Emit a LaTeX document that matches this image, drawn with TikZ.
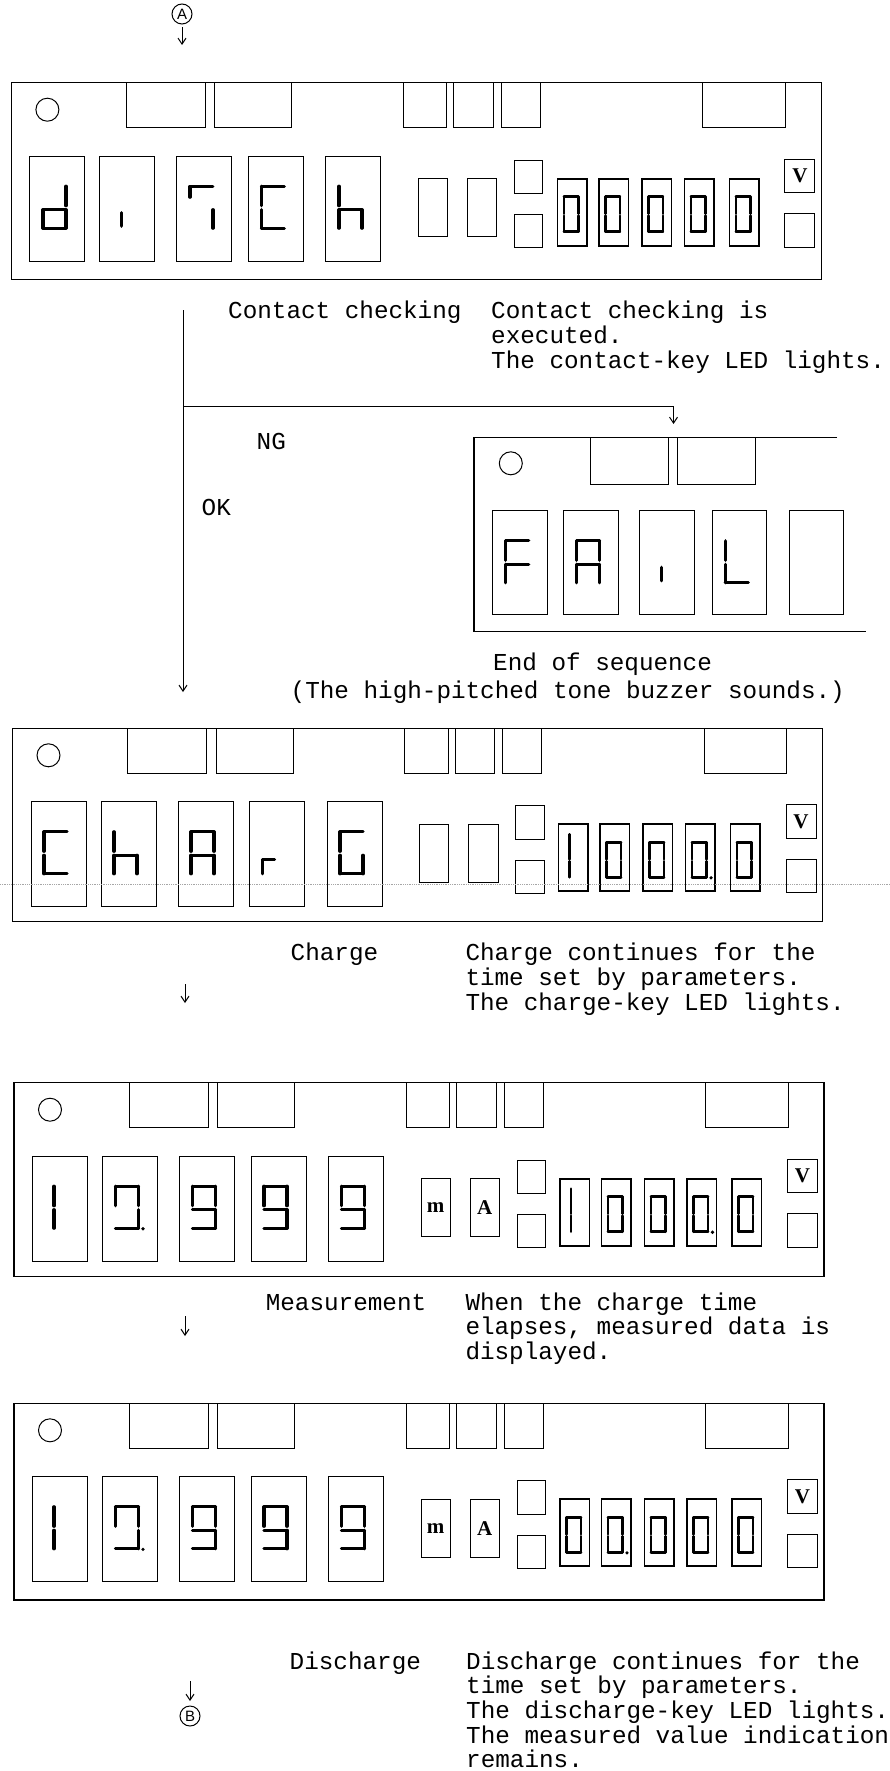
\documentclass[tikz,border=0pt]{standalone}
\usepackage{fontspec}
\setmainfont{Liberation Serif}
\newfontfamily\monofont{Liberation Mono}
\newfontfamily\sansf{Liberation Sans}
\usetikzlibrary{arrows.meta}
\tikzset{
  frame/.style={draw, line width=1.3pt, inner sep=0pt, outer sep=0pt, anchor=north west},
  thinbox/.style={line width=1pt},
  dbox/.style={line width=1.7pt},
  seg/.style={line width=\segw pt, line cap=round, line join=round},
  flow/.style={line width=1pt, -{Straight Barb[length=6pt,width=8pt]}},
  txt/.style={font=\monofont\fontsize{24.3}{28}\selectfont, inner sep=0pt, anchor=base west},
  unit/.style={font=\bfseries\fontsize{21}{21}\selectfont, inner sep=0pt},
  circmark/.style={draw, circle, line width=1pt, minimum size=20pt, inner sep=0pt, font=\sansf\fontsize{15}{15}\selectfont},
}
% seven-segment pieces
\newcommand\SgA{\draw[seg] (\gxL,\gyT)--(\gxR,\gyT);}
\newcommand\SgB{\draw[seg] (\gxR,\gyT)--(\gxR,\gyM);}
\newcommand\SgC{\draw[seg] (\gxR,\gyN)--(\gxR,\gyB);}
\newcommand\SgD{\draw[seg] (\gxL,\gyB)--(\gxR,\gyB);}
\newcommand\SgE{\draw[seg] (\gxL,\gyN)--(\gxL,\gyB);}
\newcommand\SgF{\draw[seg] (\gxL,\gyT)--(\gxL,\gyM);}
\newcommand\SgG{\draw[seg] (\gxL,\gyN)--(\gxR,\gyN);}
\newcommand\SgP{\fill (\gxR+4.5,\gyB+0.5) circle (1.8);}
\newcommand\SgI{\draw[seg] (\gxC,\gyN+3)--(\gxC,\gyB-2);}
\newcommand\SgOne{\draw[seg] (\gxC,\gyO)--(\gxC,\gyM); \draw[seg] (\gxC,\gyN)--(\gxC,\gyB);}
\newcommand\SgZero{\SgA\SgB\SgC\SgD\SgE\SgF}
\newcommand\SgNine{\SgA\SgB\SgC\SgD\SgF\SgG}
\newcommand\BigG[2]{\begin{scope}[shift={(#1,73.5)}]\def\gxL{13}\def\gxR{36}\def\gyT{30}\def\gyM{49.5}\def\gyN{53.5}\def\gyB{72}\def\gxC{21.5}\def\gyO{30}\def\segw{3.2}#2\end{scope}}
\newcommand\SmG[2]{\begin{scope}[shift={(#1,96)}]\def\gxL{6.5}\def\gxR{21}\def\gyT{18}\def\gyM{35}\def\gyN{37}\def\gyB{53}\def\gxC{11}\def\gyO{10}\def\segw{2.6}#2\end{scope}}
% full panel: name, x, y, height, content
\newcommand\Panel[5]{%
\begin{scope}[shift={(#2,#3)}]
  \node[frame, minimum width=810pt, minimum height=#4pt] (#1) at (0,0) {};
  \draw[thinbox] (36,27) circle (11.5);
  \foreach \a/\b in {115/194,203.5/280.5,392/435.5,442.5/482,490/529,691.5/774} {\draw[thinbox] (\a,0) rectangle (\b,45);}
  \foreach \a in {18.5,88.5,165.5,237,314.5} {\draw[thinbox] (\a,73.5) rectangle ++(55,105);}
  \draw[thinbox] (407,96) rectangle (436,154);
  \draw[thinbox] (456,96) rectangle (485.5,154);
  \draw[thinbox] (503,77.5) rectangle (531.5,111);
  \draw[thinbox] (503,132) rectangle (531.5,165);
  \foreach \a in {546,587.5,630.5,673,718} {\draw[dbox] (\a,96) rectangle ++(29.5,67);}
  \draw[thinbox] (773.5,76.5) rectangle (803.5,110);
  \draw[thinbox] (773.5,131) rectangle (803.5,164.5);
  \node[unit] (#1v) at (788.5,93.3) {V};
  #5
\end{scope}}

\begin{document}
\begin{tikzpicture}[x=1pt,y=-1pt]
\fill[white] (0,0) rectangle (890,1771);
\useasboundingbox (0,0) rectangle (890,1771);

% start mark
\node[circmark] (ca) at (182,14) {A};
\coordinate (ca1) at (182,27);
\coordinate (ca2) at (182,45);
\draw[flow] (ca1) -- (ca2);

% panel 1: dISCh
\Panel{pa}{11.4}{82.7}{197}{%
  \BigG{18.5}{\SgB\SgC\SgD\SgE\SgG}
  \BigG{88.5}{\SgI}
  \BigG{165.5}{\draw[seg] (\gxL,\gyT+11)--(\gxL,\gyT)--(\gxR,\gyT); \SgC}
  \BigG{237}{\SgA\SgF\SgE\SgD}
  \BigG{314.5}{\SgF\SgE\SgG\SgC}
  \SmG{546}{\SgZero}\SmG{587.5}{\SgZero}\SmG{630.5}{\SgZero}\SmG{673}{\SgZero}\SmG{718}{\SgZero}
}

% texts contact checking
\node[txt] (cc) at (228,318.5) {Contact checking};
\node[txt] (cd1) at (491,318.5) {Contact checking is};
\node[txt] (cd2) at (491,343.25) {executed.};
\node[txt] (cd3) at (491,368) {The contact-key LED lights.};

% flow
\coordinate (v0) at (183,310);
\coordinate (vb) at (183,406.7);
\coordinate (v1) at (183,692);
\coordinate (b1) at (673.5,406.7);
\coordinate (b2) at (673.5,424);
\draw[flow] (v0) -- (v1);
\draw[flow] (vb) -- (b1) -- (b2);
\node[txt] (ng) at (256.5,449) {NG};
\node[txt] (ok) at (201.5,515) {OK};

% FAIL panel (cut at the right)
\begin{scope}[shift={(474,437.3)}]
  \coordinate (fl1) at (363,0);
  \coordinate (fl0) at (0,0);
  \coordinate (fl2) at (0,194.4);
  \coordinate (fl3) at (392,194.4);
  \draw[line width=1.3pt] (fl1) -- (fl0) -- (fl2) -- (fl3);
  \draw[thinbox] (36.8,26) circle (11.5);
  \draw[thinbox] (116.3,0) rectangle (194,46.7);
  \draw[thinbox] (203,0) rectangle (281,46.7);
  \foreach \a in {18.7,89.6,165.7,238.3,315} {\draw[thinbox] (\a,73) rectangle ++(54.5,104.5);}
  \BigG{18.7}{\SgA\SgF\SgG\SgE}
  \BigG{89.6}{\SgA\SgB\SgF\SgG\SgE\SgC}
  \BigG{165.7}{\SgI}
  \BigG{238.3}{\SgF\SgE\SgD}
\end{scope}

\node[txt] (es1) at (493,670) {End of sequence};
\node[txt] (es2) at (290.5,698) {(The high-pitched tone buzzer sounds.)};

% panel 3: ChArG
\Panel{pc}{12.5}{728.3}{193.4}{%
  \BigG{18.5}{\SgA\SgF\SgE\SgD}
  \BigG{88.5}{\SgF\SgE\SgG\SgC}
  \BigG{165.5}{\SgA\SgB\SgF\SgG\SgE\SgC}
  \BigG{237}{\draw[seg] (\gxL,\gyB)--(\gxL,\gyN+4)--(\gxL+12,\gyN+4);}
  \BigG{314.5}{\SgA\SgF\SgE\SgD\SgC}
  \SmG{546}{\SgOne}\SmG{587.5}{\SgZero}\SmG{630.5}{\SgZero}\SmG{673}{\SgZero\SgP}\SmG{718}{\SgZero}
}
\coordinate (dl0) at (0,884.3);
\coordinate (dl1) at (890,884.3);
\draw[gray!70, line width=0.8pt, densely dotted] (dl0) -- (dl1);

\node[txt] (ch) at (290.5,960.5) {Charge};
\node[txt] (chd1) at (465.3,960.5) {Charge continues for the};
\node[txt] (chd2) at (465.3,985.25) {time set by parameters.};
\node[txt] (chd3) at (465.3,1010) {The charge-key LED lights.};
\coordinate (ar1) at (185,984);
\coordinate (ar2) at (185,1003);
\draw[flow] (ar1) -- (ar2);

% panel 4: measurement
\Panel{pm}{14}{1082.7}{194}{%
  \BigG{18.5}{\SgOne}
  \BigG{88.5}{\SgA\SgB\SgC\SgD\SgF\SgP}
  \BigG{165.5}{\SgNine}
  \BigG{237}{\SgNine}
  \BigG{314.5}{\SgNine}
  \node[unit] (pmm) at (421.5,125) {m};
  \node[unit] (pma) at (470.7,125) {A};
  \SmG{546}{\SgOne}\SmG{587.5}{\SgZero}\SmG{630.5}{\SgZero}\SmG{673}{\SgZero\SgP}\SmG{718}{\SgZero}
}
\node[txt] (ms) at (265.6,1310) {Measurement};
\node[txt] (msd1) at (465.3,1310) {When the charge time};
\node[txt] (msd2) at (465.3,1334.75) {elapses, measured data is};
\node[txt] (msd3) at (465.3,1359.5) {displayed.};
\coordinate (ar3) at (185,1316);
\coordinate (ar4) at (185,1336);
\draw[flow] (ar3) -- (ar4);

% panel 5: discharge
\Panel{pd}{14}{1403.3}{196.7}{%
  \BigG{18.5}{\SgOne}
  \BigG{88.5}{\SgA\SgB\SgC\SgD\SgF\SgP}
  \BigG{165.5}{\SgNine}
  \BigG{237}{\SgNine}
  \BigG{314.5}{\SgNine}
  \node[unit] (pdm) at (421.5,125) {m};
  \node[unit] (pda) at (470.7,125) {A};
  \SmG{546}{\SgZero}\SmG{587.5}{\SgZero\SgP}\SmG{630.5}{\SgZero}\SmG{673}{\SgZero}\SmG{718}{\SgZero}
}
\node[txt] (ds) at (289.5,1669) {Discharge};
\node[txt] (dsd1) at (466,1669) {Discharge continues for the};
\node[txt] (dsd2) at (466,1693.75) {time set by parameters.};
\node[txt] (dsd3) at (466,1718.5) {The discharge-key LED lights.};
\node[txt] (dsd4) at (466,1743.25) {The measured value indication};
\node[txt] (dsd5) at (466,1767) {remains.};
\coordinate (ar5) at (190,1681);
\coordinate (ar6) at (190,1701);
\draw[flow] (ar5) -- (ar6);
\node[circmark] (cb) at (190,1716) {B};
\end{tikzpicture}
\end{document}
